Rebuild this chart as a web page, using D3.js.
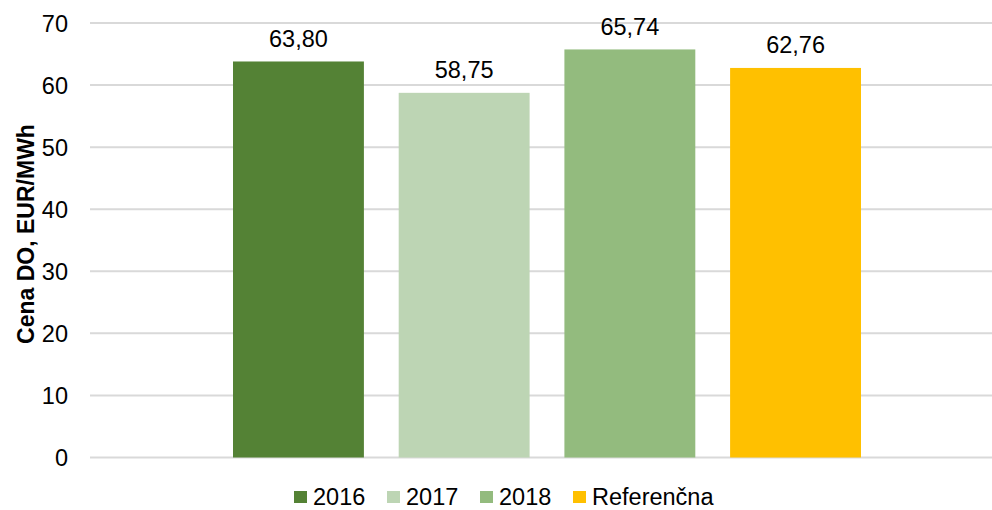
<!DOCTYPE html>
<html>
<head>
<meta charset="utf-8">
<script src="https://cdn.jsdelivr.net/npm/d3@7"></script>
<style>
    body { margin: 0; background: #fff; }
    svg text { font-family: "Liberation Sans", Arial, sans-serif; fill: #000; }
</style>
</head>
<body>
<div id="chart"></div>
<script>
// Podatki
var series = ["2016", "2017", "2018", "Referenčna"];
var values = [63.80, 58.75, 65.74, 62.76];
var colors = ["#548235", "#bdd5b4", "#93bb7e", "#ffc000"];
var yTicks = [0, 10, 20, 30, 40, 50, 60, 70];

function fN(n) {
    return n.toFixed(2).replace(".", ",");
}

var width = 992, height = 510;
var plot = {left: 90, right: 992, top: 23, bottom: 457.5};

var svg = d3.select("#chart")
    .append("svg")
    .attr("width", width)
    .attr("height", height);

var y = d3.scaleLinear()
    .domain([0, 70])
    .range([plot.bottom, plot.top]);

var x = d3.scaleBand()
    .domain(series)
    .range([233, 861])
    .paddingInner(0.21)
    .paddingOuter(0);

// mreža
svg.append("g")
    .selectAll("line")
    .data(yTicks)
    .enter()
    .append("line")
    .attr("x1", plot.left)
    .attr("x2", plot.right)
    .attr("y1", d => y(d))
    .attr("y2", d => y(d))
    .style("stroke", "#d9d9d9")
    .style("stroke-width", 2);

// os Y
var yAxis = svg.append("g")
    .attr("transform", "translate(" + (plot.left - 22) + ",0)")
    .call(d3.axisLeft(y).tickValues(yTicks).tickSize(0).tickPadding(0));
yAxis.select(".domain").remove();
yAxis.selectAll("text")
    .style("font-size", "23.5px")
    .attr("dy", "0.35em");

svg.append("text")
    .attr("transform", "translate(34,234)rotate(-90)")
    .attr("text-anchor", "middle")
    .style("font-size", "23px")
    .style("font-weight", "bold")
    .text("Cena DO, EUR/MWh");

// stolpci
svg.append("g")
    .selectAll("rect")
    .data(values)
    .enter()
    .append("rect")
    .attr("x", (d, i) => x(series[i]))
    .attr("y", d => y(d))
    .attr("width", x.bandwidth())
    .attr("height", d => y(0) - y(d))
    .attr("fill", (d, i) => colors[i]);

svg.append("g")
    .selectAll("text")
    .data(values)
    .enter()
    .append("text")
    .attr("x", (d, i) => x(series[i]) + x.bandwidth() / 2)
    .attr("y", d => y(d) - 14.5)
    .attr("text-anchor", "middle")
    .style("font-size", "23.5px")
    .text(d => fN(d));

// legenda
var legendX = [294, 387, 480, 573];
var legend = svg.append("g")
    .selectAll("g")
    .data(series)
    .enter()
    .append("g")
    .attr("transform", (d, i) => "translate(" + legendX[i] + ",491)");
legend.append("rect")
    .attr("width", 13)
    .attr("height", 12)
    .attr("fill", (d, i) => colors[i]);
legend.append("text")
    .attr("x", 19)
    .attr("y", 14)
    .style("font-size", "23.5px")
    .text(d => d);
</script>
</body>
</html>
